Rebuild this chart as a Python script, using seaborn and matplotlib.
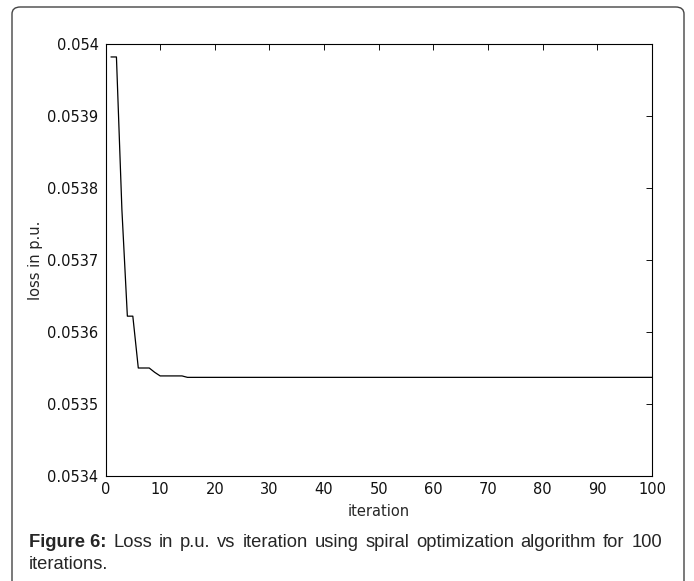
import numpy as np
import pandas as pd
import seaborn as sns
import matplotlib.pyplot as plt
from matplotlib.patches import FancyBboxPatch

# dados
iteracoes = list(range(1, 101))
perda_inicio = [0.053982, 0.053982, 0.053770, 0.053622, 0.053622,
                0.053550, 0.053550, 0.053550, 0.053544, 0.053539,
                0.053539, 0.053539, 0.053539, 0.053539]
perda_final = [0.053537] * 86
perda = perda_inicio + perda_final

y_ticks = [0.0534, 0.0535, 0.0536, 0.0537, 0.0538, 0.0539, 0.0540]
y_labels = ['0.0534', '0.0535', '0.0536', '0.0537', '0.0538', '0.0539', '0.054']
x_ticks = [0, 10, 20, 30, 40, 50, 60, 70, 80, 90, 100]

legenda_negrito = 'Figure 6:'
legenda_linha1 = 'Loss in p.u. vs iteration using spiral optimization algorithm for 100'
legenda_linha2 = 'iterations.'

df = pd.DataFrame({'iteration': iteracoes, 'loss': perda})

sns.set_style('white')
plt.rcParams['font.family'] = ['DejaVu Sans']

W, H = 694, 581
fig = plt.figure(figsize=(W / 100, H / 100), dpi=100)
ax = fig.add_axes([105.5 / W, 1 - 476 / H, 546.5 / W, 432 / H])

sns.lineplot(x='iteration', y='loss', data=df, color='black', linewidth=0.9, ax=ax)

ax.set_xlim(0, 100)
ax.set_ylim(0.0534, 0.0540)
ax.set_xticks(x_ticks)
ax.set_xticklabels([str(t) for t in x_ticks])
ax.set_yticks(y_ticks)
ax.set_yticklabels(y_labels)
ax.tick_params(direction='in', length=4.5, width=0.7, top=True, right=True,
               labelsize=10.5, colors='#111111', pad=4)
ax.tick_params(axis='y', pad=5)
for s in ax.spines.values():
    s.set_visible(True)
    s.set_color('black')
    s.set_linewidth(0.8)
ax.set_xlabel('iteration', fontsize=10.5, labelpad=5)
ax.set_ylabel('loss in p.u.', fontsize=10.5, labelpad=3)
ax.grid(False)

# moldura arredondada
moldura = FancyBboxPatch((12 / W, -0.05), (684 - 12) / W, (1 - 7 / H) + 0.05,
                         boxstyle='round,pad=0,rounding_size=0.012',
                         transform=fig.transFigure, fill=False,
                         edgecolor='#444444', linewidth=1.0)
fig.patches.append(moldura)

# legenda da figura (linha 1 justificada)
r = fig.canvas.get_renderer()
fs_leg = 13.2
x0, x_fim = 29, 662
y1, y2 = 1 - 547 / H, 1 - 569 / H

palavras = [(legenda_negrito, 'bold')] + [(p, 'normal') for p in legenda_linha1.split()]
textos = []
for p, peso in palavras:
    t = fig.text(0, y1, p, fontsize=fs_leg, fontweight=peso,
                 family='Liberation Sans', va='baseline')
    textos.append(t)
larguras = [t.get_window_extent(renderer=r).width for t in textos]
espaco = (x_fim - x0 - sum(larguras)) / (len(textos) - 1)
x = x0
for t, w in zip(textos, larguras):
    t.set_x(x / W)
    x += w + espaco

fig.text(x0 / W, y2, legenda_linha2, fontsize=fs_leg,
         family='Liberation Sans', va='baseline')

plt.savefig('out.png', dpi=100)
